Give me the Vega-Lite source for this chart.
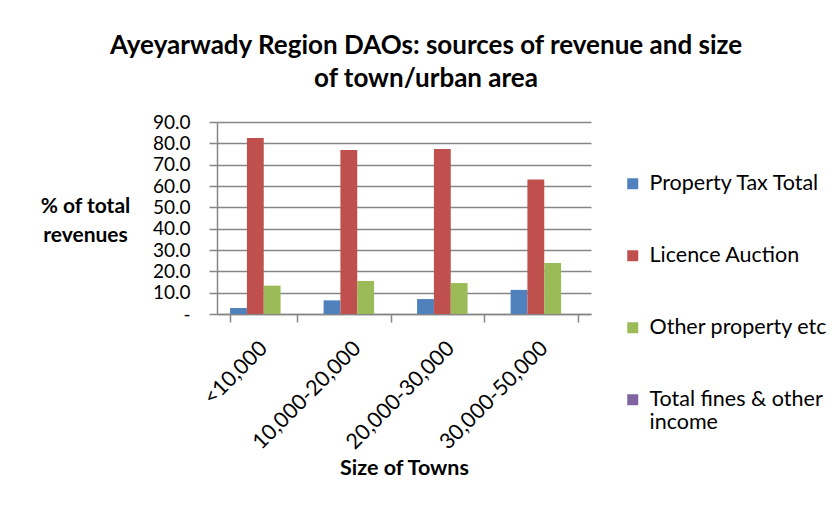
{
  "$schema": "https://vega.github.io/schema/vega-lite/v6.json",
  "width": 374,
  "height": 192,
  "autosize": {"type": "none"},
  "padding": {"left": 217, "top": 122, "right": 249, "bottom": 198},
  "background": "white",
  "title": {
    "text": ["Ayeyarwady Region DAOs: sources of revenue and size", "of town/urban area"],
    "font": "Lato",
    "fontSize": 26,
    "fontWeight": "bold",
    "color": "#000000",
    "lineHeight": 33,
    "anchor": "middle",
    "frame": "group",
    "dx": 22,
    "offset": 21
  },
  "data": {
    "values": [
      {"size": "<10,000", "source": "Property Tax Total", "pct": 2.8},
      {"size": "<10,000", "source": "Licence Auction", "pct": 82.5},
      {"size": "<10,000", "source": "Other property etc", "pct": 13.3},
      {"size": "<10,000", "source": "Total fines & other income", "pct": 0},
      {"size": "10,000-20,000", "source": "Property Tax Total", "pct": 6.4},
      {"size": "10,000-20,000", "source": "Licence Auction", "pct": 76.9},
      {"size": "10,000-20,000", "source": "Other property etc", "pct": 15.5},
      {"size": "10,000-20,000", "source": "Total fines & other income", "pct": 0},
      {"size": "20,000-30,000", "source": "Property Tax Total", "pct": 7.0},
      {"size": "20,000-30,000", "source": "Licence Auction", "pct": 77.3},
      {"size": "20,000-30,000", "source": "Other property etc", "pct": 14.5},
      {"size": "20,000-30,000", "source": "Total fines & other income", "pct": 0},
      {"size": "30,000-50,000", "source": "Property Tax Total", "pct": 11.3},
      {"size": "30,000-50,000", "source": "Licence Auction", "pct": 63.1},
      {"size": "30,000-50,000", "source": "Other property etc", "pct": 23.9},
      {"size": "30,000-50,000", "source": "Total fines & other income", "pct": 0}
    ]
  },
  "mark": {"type": "bar"},
  "encoding": {
    "x": {
      "field": "size",
      "type": "nominal",
      "sort": ["<10,000", "10,000-20,000", "20,000-30,000", "30,000-50,000"],
      "scale": {"paddingInner": 0.28, "paddingOuter": 0.14},
      "axis": {
        "labelAngle": -45,
        "labelAlign": "right",
        "labelBaseline": "middle",
        "labelFont": "Lato",
        "labelFontSize": 21.5,
        "labelColor": "#000000",
        "labelPadding": 23,
        "labelOverlap": false,
        "tickBand": "extent",
        "tickSize": 8,
        "tickColor": "#868686",
        "tickWidth": 1.5,
        "domainColor": "#868686",
        "domainWidth": 1.5,
        "grid": false,
        "title": "Size of Towns",
        "titleFont": "Lato",
        "titleFontSize": 21.5,
        "titleFontWeight": "bold",
        "titleColor": "#000000",
        "titleY": 154,
        "titleBaseline": "middle"
      }
    },
    "xOffset": {
      "field": "source",
      "type": "nominal",
      "sort": ["Property Tax Total", "Licence Auction", "Other property etc", "Total fines & other income"],
      "scale": {"paddingInner": 0, "paddingOuter": 0}
    },
    "y": {
      "field": "pct",
      "type": "quantitative",
      "scale": {"domain": [0, 90], "nice": false},
      "axis": {
        "values": [0, 10, 20, 30, 40, 50, 60, 70, 80, 90],
        "labelExpr": "datum.value == 0 ? '-\u00a0\u00a0\u00a0' : format(datum.value, '.1f')",
        "labelFont": "Lato",
        "labelFontSize": 19,
        "labelColor": "#000000",
        "labelPadding": 19,
        "labelOverlap": false,
        "tickSize": 8,
        "tickColor": "#868686",
        "tickWidth": 1.5,
        "domainColor": "#868686",
        "domainWidth": 1.5,
        "grid": true,
        "gridColor": "#868686",
        "gridWidth": 1.5,
        "title": ["% of total", "revenues"],
        "titleFont": "Lato",
        "titleFontSize": 21,
        "titleFontWeight": "bold",
        "titleColor": "#000000",
        "titleAngle": 0,
        "titleAlign": "center",
        "titleBaseline": "alphabetic",
        "titleLineHeight": 29,
        "titleX": -132,
        "titleY": 90
      }
    },
    "color": {
      "field": "source",
      "type": "nominal",
      "scale": {
        "domain": ["Property Tax Total", "Licence Auction", "Other property etc", "Total fines & other income"],
        "range": ["#4F81BD", "#C0504D", "#9BBB59", "#8064A2"]
      },
      "legend": {
        "orient": "none",
        "legendX": 405,
        "legendY": 51,
        "title": null,
        "padding": 0,
        "symbolType": "square",
        "symbolSize": 121,
        "symbolStrokeWidth": 0,
        "symbolOpacity": 1,
        "labelFont": "Lato",
        "labelFontSize": 21.5,
        "labelColor": "#000000",
        "labelOffset": 6,
        "labelLimit": 300,
        "rowPadding": 49,
        "labelExpr": "datum.label == 'Total fines & other income' ? ['Total fines & other', 'income'] : datum.label"
      }
    }
  },
  "config": {"view": {"stroke": null}}
}
